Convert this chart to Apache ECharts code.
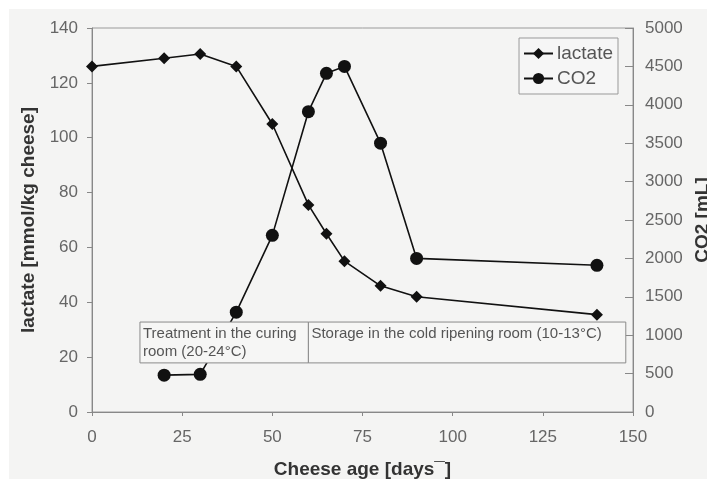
<!DOCTYPE html>
<html><head><meta charset="utf-8">
<script src="https://cdn.jsdelivr.net/npm/echarts@6/dist/echarts.min.js"></script>
<style>
html,body{margin:0;padding:0;background:#fff;width:707px;height:479px;overflow:hidden}
#c{position:absolute;left:9px;top:9px;width:698px;height:470px}
</style></head>
<body><div id="c"></div>
<script>
const lactateDays = [0, 20, 30, 40, 50, 60, 65, 70, 80, 90, 140];
const lactateValues = [126, 129, 130.5, 126, 105, 75.5, 65, 55, 46, 42, 35.5];
const co2Days = [20, 30, 40, 50, 60, 65, 70, 80, 90, 140];
const co2Values = [480, 490, 1300, 2300, 3910, 4410, 4500, 3500, 2000, 1910];
const xTicks = [0, 25, 50, 75, 100, 125, 150];
const annotationTexts = ['Treatment in the curing\nroom (20-24°C)', 'Storage in the cold ripening room (10-13°C)'];
const annotationFrom = [13.3, 60];
const annotationTo = [60, 148];
const annotationTop = 32.8;
const annotationBottom = 17.9;

const chart = echarts.init(document.getElementById('c'));
const font = 'Liberation Sans, Arial, sans-serif';
chart.setOption({
  backgroundColor: '#f4f4f3',
  animation: false,
  grid: {left: 83, right: 74, top: 19, bottom: 67, containLabel: false, outerBoundsMode: 'none',
    show: true, borderColor: '#9a9a9a', borderWidth: 1, backgroundColor: 'transparent'},
  legend: {
    right: 89, top: 29, orient: 'vertical', itemGap: 6, itemWidth: 29, itemHeight: 14,
    borderColor: '#999', borderWidth: 1, padding: [6, 5, 6, 4], backgroundColor: '#f6f6f6',
    textStyle: {fontFamily: font, fontSize: 19, color: '#555', padding: [0, 0, 0, -1]},
    data: ['lactate', 'CO2']
  },
  xAxis: {
    type: 'value', min: 0, max: 150, interval: 25,
    name: 'Cheese age [days¯]', nameLocation: 'middle', nameGap: 48,
    nameTextStyle: {fontFamily: font, fontSize: 19, fontWeight: 'bold', color: '#333'},
    axisLine: {lineStyle: {color: '#888'}},
    axisTick: {show: true, length: 4, lineStyle: {color: '#888'}},
    splitLine: {show: false},
    axisLabel: {fontFamily: font, fontSize: 17, color: '#666', margin: 17,
      formatter: v => xTicks.includes(v) ? String(v) : ''}
  },
  yAxis: [{
    type: 'value', min: 0, max: 140, interval: 20,
    name: 'lactate [mmol/kg cheese]', nameLocation: 'middle', nameGap: 52, nameRotate: 90,
    nameTextStyle: {fontFamily: font, fontSize: 19, fontWeight: 'bold', color: '#333'},
    axisLine: {show: true, lineStyle: {color: '#888'}},
    axisTick: {show: true, length: 5, lineStyle: {color: '#888'}},
    splitLine: {show: false},
    axisLabel: {fontFamily: font, fontSize: 17, color: '#666', margin: 14}
  }, {
    type: 'value', min: 0, max: 5000, interval: 500, position: 'right',
    name: 'CO2 [mL]', nameLocation: 'middle', nameGap: 57, nameRotate: 90,
    nameTextStyle: {fontFamily: font, fontSize: 19, fontWeight: 'bold', color: '#333'},
    axisLine: {show: true, lineStyle: {color: '#888'}},
    axisTick: {show: true, inside: true, length: 8, lineStyle: {color: '#888'}},
    splitLine: {show: false},
    axisLabel: {fontFamily: font, fontSize: 17, color: '#666', margin: 12, formatter: v => String(v)}
  }],
  series: [{
    name: 'lactate', type: 'line', yAxisIndex: 0, z: 3,
    data: lactateDays.map((d, i) => [d, lactateValues[i]]),
    symbol: 'diamond', symbolSize: 12,
    lineStyle: {color: '#111', width: 1.6}, itemStyle: {color: '#111'}
  }, {
    name: 'CO2', type: 'line', yAxisIndex: 1, z: 3,
    data: co2Days.map((d, i) => [d, co2Values[i]]),
    symbol: 'circle', symbolSize: 13,
    lineStyle: {color: '#111', width: 1.6}, itemStyle: {color: '#111'}
  }, {
    name: 'annotation', type: 'custom', yAxisIndex: 0, z: 10, silent: true,
    data: annotationTexts.map((t, i) => [annotationFrom[i], annotationTo[i], annotationTop, annotationBottom]),
    renderItem: function (params, api) {
      const p0 = api.coord([api.value(0), api.value(2)]);
      const p1 = api.coord([api.value(1), api.value(3)]);
      return {
        type: 'group',
        children: [{
          type: 'rect',
          shape: {x: p0[0], y: p0[1], width: p1[0] - p0[0], height: p1[1] - p0[1]},
          style: {fill: '#f6f6f5', stroke: '#8a8a8a', lineWidth: 1}
        }, {
          type: 'text',
          x: p0[0] + 3, y: p0[1] + 3,
          style: {text: annotationTexts[params.dataIndex], fontFamily: font, fontSize: 15, fill: '#555', lineHeight: 18, verticalAlign: 'top'}
        }]
      };
    }
  }]
});
</script></body></html>
